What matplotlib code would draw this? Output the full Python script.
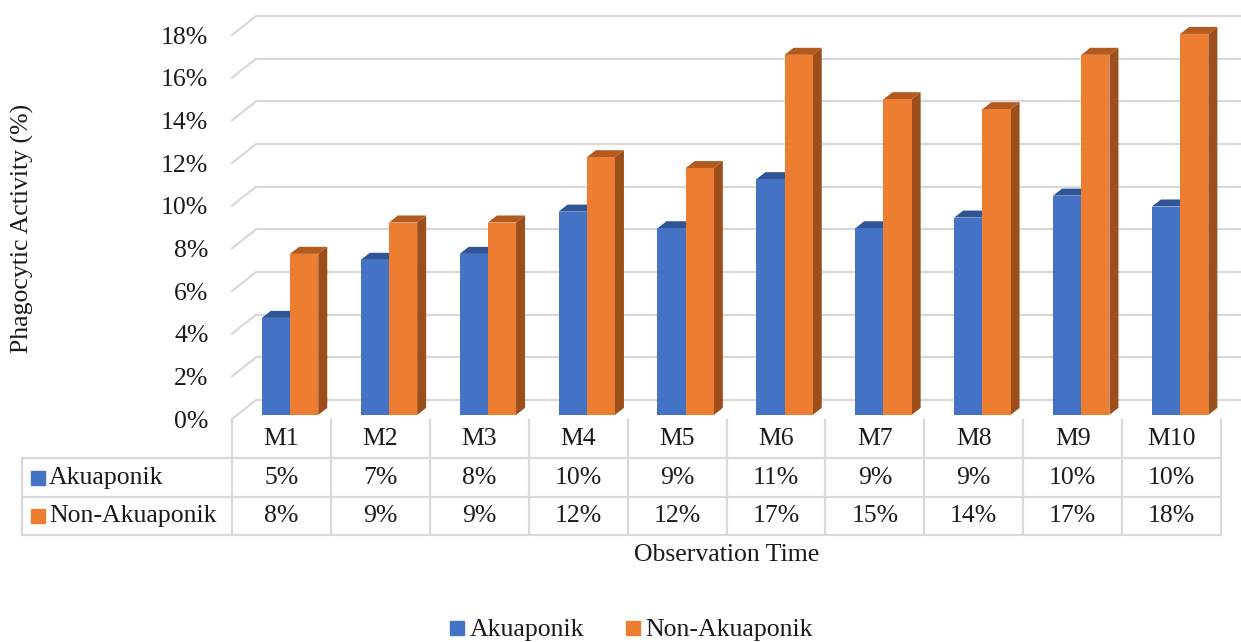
import matplotlib
matplotlib.use("Agg")
import matplotlib.pyplot as plt
from matplotlib.lines import Line2D
import numpy as np

# ---- data -------------------------------------------------------------
categories = ["M1", "M2", "M3", "M4", "M5", "M6", "M7", "M8", "M9", "M10"]
akuaponik = [4.55, 7.27, 7.55, 9.53, 8.75, 11.05, 8.75, 9.25, 10.28, 9.77]
non_akuaponik = [7.55, 9.02, 9.02, 12.08, 11.57, 16.88, 14.80, 14.33, 16.88, 17.86]
series_names = ["Akuaponik", "Non-Akuaponik"]
y_ticks = list(range(0, 19, 2))

# ---- style ------------------------------------------------------------
plt.rcParams["font.family"] = ["Liberation Serif", "DejaVu Serif"]
FS = 18.5
TXT = "#1a1a1a"
GRID = "#d9d9d9"
front_cols = ["#4472c4", "#ed7d31"]
top_cols = ["#2f5597", "#b35b1f"]
side_cols = ["#2a4c88", "#9c4e1b"]

W, H = 1241, 642
fig = plt.figure(figsize=(W / 100, H / 100), dpi=100)

# plot area (front plane): x in category units, y in percent
ax = fig.add_axes([232 / W, 1 - 419 / H, 989 / W, 384 / H])
ax.set_xlim(-0.5, len(categories) - 0.5)
ax.set_ylim(0, 18)
for s in ax.spines.values():
    s.set_visible(False)
ax.set_xticks([])
ax.set_yticks(y_ticks)
ax.set_yticklabels([f"{v}%" for v in y_ticks], fontsize=FS, color=TXT)
ax.tick_params(axis="y", length=0, pad=17)

# perspective offsets of the back wall (category units, percent units)
wall_dx, wall_dy = 0.243, 0.89
x0, x1 = -0.5, len(categories) - 0.5
for v in y_ticks:
    ax.plot([x0 + wall_dx, x1 + wall_dx + 0.1], [v + wall_dy, v + wall_dy],
            color=GRID, lw=1.6, clip_on=False, zorder=0)
    ax.plot([x0, x0 + wall_dx], [v, v + wall_dy],
            color=GRID, lw=1.6, clip_on=False, zorder=0)

# 3D columns
bar_w = 0.285
shift = 0.087          # front face offset of the column pair
base = 0.19            # column base sits slightly behind the front plane
depth_dx, depth_dy = 0.091, 0.33
xs = np.arange(len(categories))
for si, vals in enumerate([akuaponik, non_akuaponik]):
    lefts = xs + shift - bar_w + si * bar_w
    for k, (xl, v) in enumerate(zip(lefts, vals)):
        z = 2 + k * 0.01 + si * 0.001
        xr = xl + bar_w
        top = base + v
        ax.fill([xr, xr + depth_dx, xr + depth_dx, xr],
                [base, base + depth_dy, top + depth_dy, top],
                color=side_cols[si], lw=0, zorder=z, clip_on=False)
        ax.fill([xl, xr, xr + depth_dx, xl + depth_dx],
                [top, top, top + depth_dy, top + depth_dy],
                color=top_cols[si], lw=0, zorder=z, clip_on=False)
    ax.bar(lefts, vals, width=bar_w, bottom=base, align="edge",
           color=front_cols[si], edgecolor="none", zorder=2.5 + si * 0.001,
           clip_on=False)

# ---- data table -------------------------------------------------------
tax = fig.add_axes([232 / W, 1 - 535 / H, 989 / W, 115 / H], sharex=ax)
tax.set_ylim(3, 0)
tax.axis("off")
label_x0 = -0.5 - (232 - 22) / 98.9
for k in range(len(categories) + 1):
    tax.plot([x0 + k, x0 + k], [0, 3], color=GRID, lw=1.6, clip_on=False)
tax.plot([label_x0, label_x0], [1, 3], color=GRID, lw=1.6, clip_on=False)
for r in (1, 2, 3):
    tax.plot([label_x0, x1], [r, r], color=GRID, lw=1.6, clip_on=False)
ax.plot([x0, x0], [0, -0.05], color=GRID, lw=1.6, clip_on=False)

for i, c in enumerate(categories):
    tax.text(i, 0.5, c, ha="center", va="center", fontsize=FS, color=TXT)
for r, vals in enumerate([akuaponik, non_akuaponik], start=1):
    for i, v in enumerate(vals):
        tax.text(i, r + 0.5, f"{int(v + 0.5)}%", ha="center", va="center",
                 fontsize=FS, color=TXT)
    tax.plot([-0.5 - (232 - 37.5) / 98.9], [r + 0.5], marker="s", ms=9.5,
             color=front_cols[r - 1], clip_on=False, ls="none")
    tax.text(-0.5 - (232 - 49) / 98.9, r + 0.5, series_names[r - 1],
             ha="left", va="center", fontsize=FS, color=TXT)

# ---- titles & legend --------------------------------------------------
fig.text(727 / W, 1 - 555 / H, "Observation Time", ha="center", va="center",
         fontsize=FS, color=TXT)
fig.text(22 / W, 1 - 228 / H, "Phagocytic Activity (%)", ha="center",
         va="center", rotation=90, fontsize=FS, color=TXT)

handles = [Line2D([], [], marker="s", ls="none", ms=9.5, color=c)
           for c in front_cols]
fig.legend(handles, series_names, loc="center", ncol=2,
           bbox_to_anchor=(631 / W, 1 - 630 / H), frameon=False,
           fontsize=FS, handlelength=0.6, handletextpad=0.2,
           columnspacing=1.6, labelcolor=TXT)

fig.savefig("out.png", dpi=100, facecolor="white")
